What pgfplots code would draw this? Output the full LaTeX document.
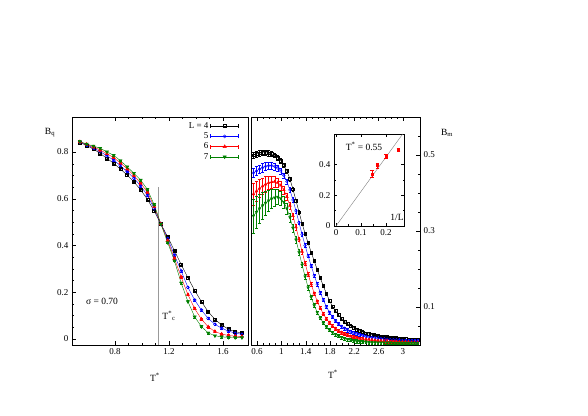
\documentclass[border=0pt]{standalone}
\usepackage{fontspec}
\setmainfont{Liberation Serif}
\usepackage{pgfplots}
\usepackage{pgfplotstable}
\pgfplotsset{compat=1.18}

\definecolor{cblue}{RGB}{0,0,255}
\definecolor{cred}{RGB}{255,0,0}
\definecolor{cgreen}{RGB}{0,128,0}

% B_q, left panel
\pgfplotstableread{
T    b4   b5   b6   b7
0.54 .841 .843 .844 .845
0.59 .828 .831 .833 .834
0.64 .813 .818 .822 .826
0.69 .794 .802 .809 .816
0.74 .773 .784 .793 .801
0.79 .752 .765 .776 .786
0.84 .727 .742 .754 .763
0.89 .702 .716 .728 .737
0.94 .673 .688 .700 .709
0.99 .638 .655 .667 .680
1.04 .598 .615 .628 .640
1.09 .548 .558 .567 .575
1.14 .492 .492 .492 .492
1.19 .437 .430 .421 .413
1.24 .378 .359 .345 .335
1.29 .319 .291 .265 .240
1.34 .262 .221 .190 .160
1.39 .208 .167 .130 .095
1.44 .160 .124 .085 .053
1.49 .117 .088 .052 .026
1.54 .084 .063 .032 .014
1.59 .060 .046 .021 .009
1.64 .042 .034 .015 .007
1.69 .031 .025 .012 .006
1.74 .026 .020 .011 .006
}\leftdata

% B_m, right panel
\pgfplotstableread{
T    b4   e4   b5   e5   b6   e6   b7   e7
0.54 .500 .008 .453 .012 .397 .028 .340 .045
0.59 .503 .008 .458 .012 .405 .026 .350 .042
0.64 .505 .008 .463 .011 .412 .024 .359 .038
0.69 .506 .007 .467 .011 .418 .022 .367 .035
0.74 .506 .007 .470 .010 .423 .020 .374 .032
0.79 .505 .007 .472 .010 .427 .018 .380 .028
0.84 .503 .006 .472 .009 .429 .016 .385 .025
0.89 .499 .006 .470 .009 .430 .015 .388 .022
0.94 .493 .006 .466 .008 .427 .013 .390 .020
0.99 .485 .006 .458 .008 .420 .012 .386 .018
1.04 .474 .005 .446 .007 .408 .011 .376 .016
1.09 .458 .005 .430 .007 .390 .010 .359 .014
1.14 .437 .005 .408 .006 .367 .009 .336 .012
1.19 .410 .005 .382 .006 .340 .008 .308 .010
1.24 .380 .005 .353 .005 .310 .007 .277 .009
1.29 .350 .005 .322 .005 .278 .006 .244 .008
1.34 .320 .004 .291 .005 .246 .006 .211 .007
1.39 .293 .004 .262 .005 .215 .005 .180 .006
1.44 .268 .004 .234 .004 .186 .005 .151 .006
1.49 .244 .004 .208 .004 .160 .005 .126 .005
1.54 .221 .004 .183 .004 .136 .004 .104 .005
1.59 .198 .004 .160 .004 .115 .004 .086 .004
1.64 .176 .004 .138 .004 .097 .004 .071 .004
1.69 .155 .004 .118 .004 .082 .004 .058 .004
1.74 .136 .004 .101 .004 .069 .004 .048 .004
1.79 .117 .004 .086 .004 .059 .004 .040 .004
1.84 .102 .004 .074 .004 .050 .004 .033 .004
1.89 .090 .004 .064 .004 .043 .004 .028 .004
1.94 .079 .004 .056 .004 .037 .004 .024 .004
1.99 .070 .004 .049 .004 .033 .004 .020 .004
2.04 .062 .004 .044 .004 .029 .004 .017 .004
2.09 .056 .004 .039 .004 .026 .004 .015 .004
2.14 .050 .004 .035 .004 .023 .004 .013 .004
2.19 .045 .004 .032 .004 .021 .004 .011 .004
2.24 .041 .004 .029 .004 .019 .004 .010 .004
2.29 .037 .004 .027 .004 .017 .004 .009 .004
2.34 .034 .004 .025 .004 .016 .004 .008 .004
2.39 .031 .004 .023 .004 .015 .004 .008 .004
2.44 .029 .004 .021 .004 .014 .004 .007 .004
2.49 .027 .004 .020 .004 .013 .004 .007 .004
2.54 .026 .004 .019 .004 .012 .004 .007 .004
2.59 .024 .004 .018 .004 .011 .004 .006 .004
2.64 .023 .004 .017 .004 .011 .004 .006 .004
2.69 .022 .004 .016 .004 .010 .004 .006 .004
2.74 .021 .004 .015 .004 .010 .004 .006 .004
2.79 .020 .004 .014 .004 .009 .004 .006 .004
2.84 .019 .004 .014 .004 .009 .004 .005 .004
2.89 .018 .004 .013 .004 .009 .004 .005 .004
2.94 .017 .004 .013 .004 .008 .004 .005 .004
2.99 .016 .004 .012 .004 .008 .004 .005 .004
3.04 .016 .004 .012 .004 .008 .004 .005 .004
3.09 .015 .004 .011 .004 .008 .004 .005 .004
3.14 .015 .004 .011 .004 .007 .004 .005 .004
3.19 .014 .004 .011 .004 .007 .004 .005 .004
3.24 .014 .004 .010 .004 .007 .004 .005 .004
}\rightdata

\pgfplotsset{
  panel/.style={
    scale only axis, height=228pt,
    /pgf/number format/assume math mode=true,
    ticklabel style={font=\fontsize{9}{9}\selectfont},
    major tick length=4pt, minor tick length=2pt,
    tick style={black, line width=0.4pt},
    axis line style={line width=0.6pt},
  },
  s4/.style={black, line width=0.4pt, mark=square, mark size=1.5pt, mark options={solid, fill=white}},
  s5/.style={cblue, line width=0.4pt, mark=o, mark size=1.6pt, mark options={solid}},
  s6/.style={cred, line width=0.4pt, mark=triangle*, mark size=1.9pt, mark options={solid}},
  s7/.style={cgreen, line width=0.4pt, mark=triangle*, mark size=1.9pt, mark options={solid, rotate=180}},
  r4/.style={s4, mark size=1.3pt},
  r5/.style={s5, mark size=1.4pt},
  r6/.style={s6, mark size=1.6pt},
  r7/.style={s7, mark size=1.6pt},
  eb/.style={error bars/.cd, y dir=both, y explicit,
    error mark options={rotate=90, mark size=1.4pt, line width=0.4pt}},
  ebl/.style={error bars/.cd, y dir=both, y fixed=0.004,
    error mark options={rotate=90, mark size=1.4pt, line width=0.4pt}},
}

\begin{document}
\begin{tikzpicture}
\useasboundingbox (0pt,0pt) rectangle (588pt,415pt);

% left panel
\begin{axis}[panel,
  at={(72pt,70pt)}, anchor=south west, width=176pt,
  xmin=0.4815, xmax=1.785, ymin=-0.0257, ymax=0.95,
  xtick={0.8,1.2,1.6}, minor x tick num=3,
  ytick={0,0.2,0.4,0.6,0.8}, minor y tick num=3,
  xtick pos=both, ytick pos=left,
  legend plot pos=right,
  legend cell align=right,
  legend style={draw=none, fill=none, at={(0.955,0.99)}, anchor=north east,
    font=\fontsize{9}{10}\selectfont, row sep=-1.2pt, inner sep=1pt},
  legend image code/.code={%
    \draw[#1, mark=none] (0pt,0pt) -- (28pt,0pt);
    \draw[#1, mark=none] (0pt,-2pt) -- (0pt,2pt) (28pt,-2pt) -- (28pt,2pt);
    \draw[#1] plot coordinates {(14pt,0pt)};
  },
]
\draw[gray!80, line width=0.9pt] (axis cs:1.12,-0.0257) -- (axis cs:1.12,0.65);
\addplot[s4, ebl] table[x=T, y=b4] {\leftdata};
\addlegendentry{L = 4}
\addplot[s5, ebl] table[x=T, y=b5] {\leftdata};
\addlegendentry{5}
\addplot[s6, ebl] table[x=T, y=b6] {\leftdata};
\addlegendentry{6}
\addplot[s7, ebl] table[x=T, y=b7] {\leftdata};
\addlegendentry{7}
\end{axis}

% right panel
\begin{axis}[panel,
  at={(251pt,70pt)}, anchor=south west, width=169pt,
  xmin=0.5, xmax=3.28, ymin=0, ymax=0.6,
  xtick={0.6,1,1.4,1.8,2.2,2.6,3}, minor x tick num=3,
  ytick={0.1,0.3,0.5}, minor ytick={0.05,0.1,...,0.55},
  xtick pos=both, ytick pos=right, yticklabel pos=right,
]
\addplot[r4, eb] table[x=T, y=b4, y error=e4] {\rightdata};
\addplot[r5, eb] table[x=T, y=b5, y error=e5] {\rightdata};
\addplot[r6, eb] table[x=T, y=b6, y error=e6] {\rightdata};
\addplot[r7, eb] table[x=T, y=b7, y error=e7] {\rightdata};
\end{axis}

% inset
\begin{axis}[panel,
  at={(334pt,189pt)}, anchor=south west, width=70pt, height=92pt,
  xmin=-0.008, xmax=0.272, ymin=0, ymax=0.6,
  xtick={0,0.1,0.2}, minor x tick num=1,
  ytick={0,0.2,0.4}, minor y tick num=1,
  axis background/.style={fill=white},
  major tick length=3pt, minor tick length=1.5pt,
]
\addplot[gray, line width=0.4pt, no marks] coordinates {(0,0) (0.2667,0.6)};
\addplot[cred, only marks, mark=square*, mark size=1pt,
  error bars/.cd, y dir=both, y explicit,
  error mark options={rotate=90, mark size=1.8pt, line width=0.5pt}]
  coordinates {(0.25,0.500) +- (0,0.010) (0.2,0.453) +- (0,0.012)
               (0.1667,0.395) +- (0,0.016) (0.1429,0.340) +- (0,0.024)};
\end{axis}

% labels
\begin{scope}[every node/.style={font=\fontsize{9.5}{10}\selectfont}]
\node at (50pt,282pt) {B\textsubscript{q}};
\node at (447pt,282pt) {B\textsubscript{m}};
\node at (155pt,38pt) {T\textsuperscript{*}};
\node at (333pt,41pt) {T\textsuperscript{*}};
\node at (102pt,114pt) {σ = 0.70};
\node at (169pt,99pt) {T\textsuperscript{*}\textsubscript{c}};
\node at (364pt,269pt) {T\textsuperscript{*} = 0.55};
\node at (397pt,198pt) {1/L};
\end{scope}
\end{tikzpicture}
\end{document}
